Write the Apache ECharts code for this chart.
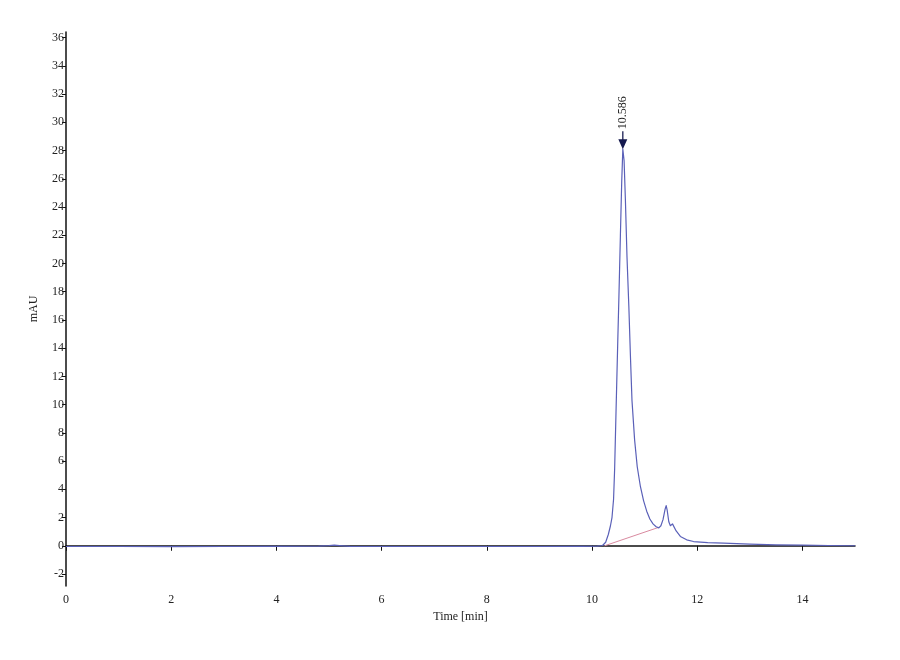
<!DOCTYPE html>
<html><head><meta charset="utf-8">
<script src="https://cdn.jsdelivr.net/npm/echarts@6/dist/echarts.min.js"></script>
<style>html,body{margin:0;padding:0;background:#fff}#c{width:900px;height:660px}</style>
</head><body><div id="c"></div>
<script>
var signal = [
  [0,-0.05],[1,-0.05],[2,-0.06],[3,-0.05],[4,-0.04],[4.8,-0.03],[5.0,0.01],[5.1,0.04],[5.2,0.01],[5.4,-0.04],
  [6,-0.05],[7,-0.05],[8,-0.05],[9,-0.05],[9.8,-0.04],[10.1,-0.02],[10.2,0.02],[10.26,0.25],[10.31,0.8],
  [10.35,1.4],[10.38,2.0],[10.41,3.3],[10.43,5.4],[10.46,10.0],[10.49,14.5],[10.51,17.4],[10.54,22.0],
  [10.565,25.8],[10.586,28.1],
  [10.61,27.3],[10.635,24.5],[10.665,20.5],[10.70,17.0],[10.73,13.5],[10.76,10.3],[10.81,7.5],[10.86,5.6],
  [10.92,4.2],[10.98,3.2],[11.04,2.45],[11.10,1.9],[11.16,1.55],[11.22,1.35],[11.27,1.27],[11.31,1.42],
  [11.35,1.85],[11.39,2.6],[11.41,2.85],[11.43,2.5],[11.46,1.7],[11.49,1.42],[11.53,1.55],[11.56,1.45],
  [11.60,1.05],[11.68,0.66],[11.8,0.42],[11.93,0.30],[12.2,0.23],[12.5,0.19],[13.0,0.12],[13.5,0.07],
  [14.0,0.04],[14.5,0.02],[15.0,0.0]
];
var integrationBaseline = [[10.24,0.0],[11.28,1.32]];
var peakLabel = '10.586';
var peakPoint = [10.586, 28.1];
var yTicks = [-2,0,2,4,6,8,10,12,14,16,18,20,22,24,26,28,30,32,34,36];
var xTicks = [0,2,4,6,8,10,12,14];

var chart = echarts.init(document.getElementById('c'));
var font = 'Liberation Serif';
chart.setOption({
  animation:false,
  backgroundColor:'#fff',
  grid:{left:66,right:45,top:32,bottom:74},
  xAxis:{type:'value',min:0,max:15,
    name:'Time [min]',nameLocation:'middle',nameGap:22,
    nameTextStyle:{fontFamily:font,fontSize:12,color:'#222'},
    axisLine:{lineStyle:{color:'#111',width:1.5}},
    axisTick:{show:true,length:5,customValues:xTicks,lineStyle:{color:'#111'}},
    axisLabel:{fontFamily:font,fontSize:12,color:'#222',margin:8,customValues:xTicks},
    splitLine:{show:false}},
  yAxis:{type:'value',min:-2.85,max:36.4,
    name:'mAU',nameLocation:'middle',nameGap:26,nameRotate:90,
    nameTextStyle:{fontFamily:font,fontSize:12,color:'#222'},
    axisLine:{show:true,lineStyle:{color:'#111',width:1.5}},
    axisTick:{show:true,length:4,customValues:yTicks,lineStyle:{color:'#111'}},
    axisLabel:{fontFamily:font,fontSize:12,color:'#222',margin:2,customValues:yTicks},
    splitLine:{show:false}},
  series:[
    {type:'line',data:integrationBaseline,showSymbol:false,symbol:'none',
     lineStyle:{color:'#d98aa0',width:1},z:2},
    {type:'line',data:signal,showSymbol:false,symbol:'none',smooth:false,
     lineStyle:{color:'#5a60b8',width:1.2,join:'round'},z:3,
     markPoint:{symbol:'path://M4.3,0 L5.7,0 L5.7,9 L10,9 L5,20 L0,9 L4.3,9 Z',
       symbolSize:[9,18],symbolOffset:[0,-9],
       itemStyle:{color:'#15194f'},
       label:{show:true,position:'top',rotate:90,distance:2,formatter:peakLabel,
         fontFamily:font,fontSize:12,color:'#222',align:'left',verticalAlign:'middle'},
       data:[{coord:peakPoint}]}}
  ]
});
</script></body></html>
